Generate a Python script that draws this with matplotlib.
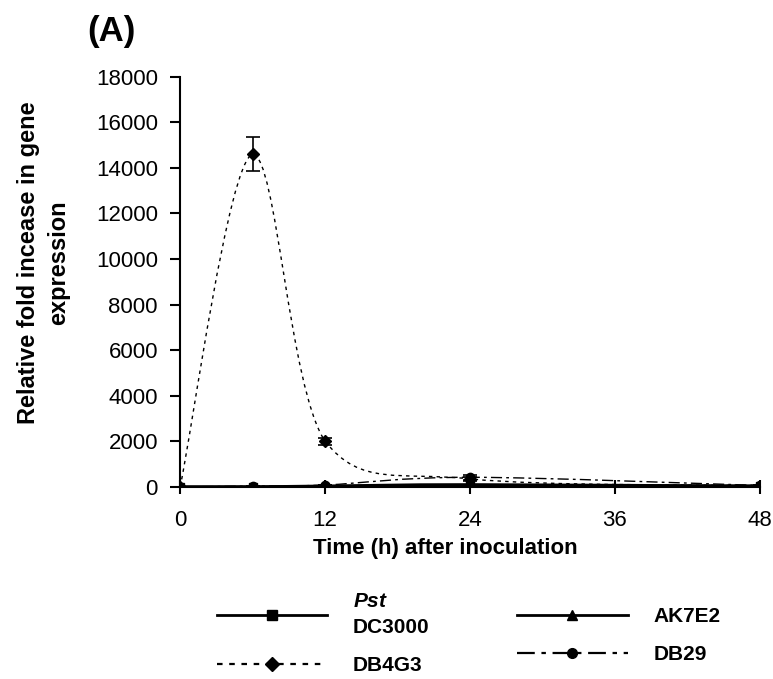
import numpy as np
import matplotlib
matplotlib.use("Agg")
import matplotlib.pyplot as plt
from matplotlib.path import Path
from matplotlib.patches import PathPatch
from matplotlib.lines import Line2D

plt.rcParams['font.family'] = ['Liberation Sans', 'DejaVu Sans']
plt.rcParams['mathtext.fontset'] = 'custom'
plt.rcParams['mathtext.bfit'] = 'Liberation Sans:italic:bold'

# data
times = [0, 6, 12, 24, 48]
pst_dc3000 = [0, 0, 10, 60, 40]
ak7e2 = [0, 5, 40, 100, 30]
db4g3 = [0, 14600, 2000, 350, 50]
db4g3_err = [0, 750, 150, 80, 0]
db29 = [0, 30, 80, 420, 60]
db29_err = [0, 0, 0, 100, 0]

labels = [r"$\mathbfit{Pst}$" + "\nDC3000", "DB4G3", "AK7E2", "DB29"]
xticks = [0, 12, 24, 36, 48]
yticks = list(range(0, 18001, 2000))


def smooth_path(x, y):
    # Excel-like smoothed line: cubic bezier segments through the points
    x = np.asarray(x, float)
    y = np.asarray(y, float)
    n = len(x)
    lo, hi = y.min(), y.max()
    verts = [(x[0], y[0])]
    codes = [Path.MOVETO]
    for i in range(n - 1):
        p0 = i - 1 if i > 0 else i
        p3 = i + 2 if i + 2 < n else i + 1
        c1 = (x[i] + (x[i + 1] - x[p0]) / 6, np.clip(y[i] + (y[i + 1] - y[p0]) / 6, lo, hi))
        c2 = (x[i + 1] - (x[p3] - x[i]) / 6, np.clip(y[i + 1] - (y[p3] - y[i]) / 6, lo, hi))
        verts += [c1, c2, (x[i + 1], y[i + 1])]
        codes += [Path.CURVE4] * 3
    return Path(verts, codes)


fig = plt.figure(figsize=(7.73, 6.79), dpi=100)
ax = fig.add_axes([0.233, 0.283, 0.750, 0.604])

series = [
    ("pst", pst_dc3000, None, "-", "s", 2.0),
    ("ak", ak7e2, None, "-", "^", 2.0),
    ("db4g3", db4g3, db4g3_err, (0, (2.5, 3)), "D", 1.0),
    ("db29", db29, db29_err, (0, (8, 3, 2, 3)), "o", 1.0),
]
handles = {}
for name, vals, err, ls, mk, lw in series:
    patch = PathPatch(smooth_path(times, vals), facecolor="none", edgecolor="black",
                      linestyle=ls, linewidth=lw)
    ax.add_patch(patch)
    ax.plot(times, vals, linestyle="none", marker=mk, color="black", markersize=6)
    if err is not None:
        ax.errorbar(times, vals, yerr=err, fmt="none", ecolor="black", elinewidth=1.2,
                    capsize=5, capthick=1.2)
    handles[name] = Line2D([], [], color="black", linestyle=ls, linewidth=lw if lw > 1 else 1.6,
                           marker=mk, markersize=7)

ax.set_xlim(0, 48)
ax.set_ylim(0, 18000)
ax.set_xticks(xticks)
ax.set_yticks(yticks)
ax.spines["top"].set_visible(False)
ax.spines["right"].set_visible(False)
ax.spines["left"].set_linewidth(1.5)
ax.spines["bottom"].set_linewidth(1.5)
ax.tick_params(axis="y", direction="out", length=7, width=1.5, pad=9, labelsize=16)
ax.tick_params(axis="x", direction="inout", length=10, width=1.5, pad=12, labelsize=16)

ax.set_xlabel("Time (h) after inoculation", fontsize=16, fontweight="bold")
ax.xaxis.set_label_coords(0.457, -0.125)
ax.set_ylabel("Relative fold incease in gene\nexpression", fontsize=17, fontweight="bold",
              linespacing=1.4)
ax.yaxis.set_label_coords(-0.19, 0.546)
fig.text(0.113, 0.978, "(A)", fontsize=25, fontweight="bold", va="top")

leg = fig.legend([handles["pst"], handles["db4g3"], handles["ak"], handles["db29"]],
                 labels,
                 loc="lower left", bbox_to_anchor=(0.256, -0.022), ncol=2, frameon=False,
                 handlelength=5.3, handletextpad=1.25, columnspacing=4.2, labelspacing=0.9,
                 borderpad=0.4, prop={"size": 15, "weight": "bold"})
leg.get_texts()[0].set_linespacing(1.5)

fig.savefig("out.png", dpi=100)
